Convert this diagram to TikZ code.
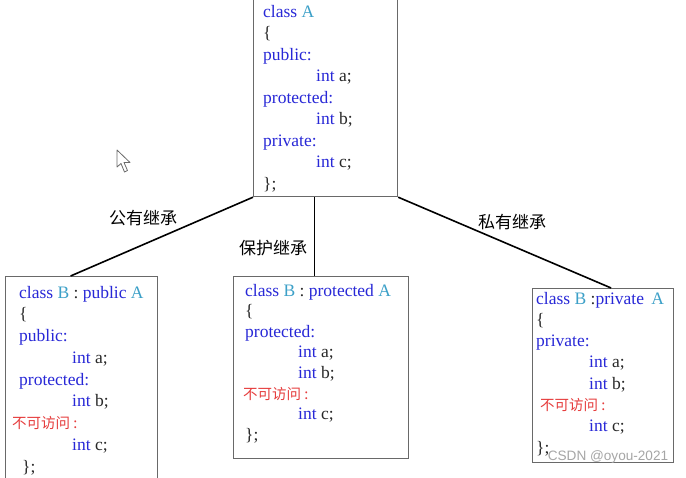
\documentclass[tikz,border=0pt]{standalone}
\usepackage{fontspec}
\setmainfont{Liberation Serif}
\setsansfont{Liberation Sans}
\newfontfamily\cjk{Noto Sans CJK SC}

\definecolor{kwblue}{RGB}{40,40,215}
\definecolor{nmteal}{RGB}{60,160,200}
\definecolor{hidered}{RGB}{230,60,60}
\definecolor{boxgray}{RGB}{105,105,105}
\definecolor{codeblack}{RGB}{40,40,40}

\newcommand{\kw}[1]{\textcolor{kwblue}{#1}}
\newcommand{\nm}[1]{\textcolor{nmteal}{#1}}
\newcommand{\hid}{{\color{hidered}\cjk\fontsize{14.5}{14.5}\selectfont 不可访问 :}}

\tikzset{
  cls/.style={draw=boxgray, line width=1.2pt, fill=white, rectangle, anchor=north west, inner sep=0},
  code/.style={anchor=base west, inner sep=0, text=codeblack, font=\fontsize{17.5}{21}\selectfont},
  link/.style={line width=1.6pt, black},
  lbl/.style={inner sep=1pt, font=\cjk\fontsize{17}{17}\selectfont, text=black}
}

\begin{document}
\begin{tikzpicture}[x=1pt, y=-1pt]
\useasboundingbox[fill=white] (0,0) rectangle (686,477);

% class boxes
\node [cls, minimum width=144pt, minimum height=197pt] (clsA) at (253,-1) {};
\node [cls, minimum width=152pt, minimum height=214pt] (pub) at (5,276) {};
\node [cls, minimum width=175pt, minimum height=182pt] (prot) at (233,276) {};
\node [cls, minimum width=141pt, minimum height=174pt] (priv) at (532,288) {};

%code lines of every box
\foreach \dx/\t [count=\i from 0] in {0/{\kw{class} \nm{A}}, 0/\{, 0/\kw{public:}, 53/{\kw{int} a;},
	0/\kw{protected:}, 53/{\kw{int} b;}, 0/\kw{private:}, 53/{\kw{int} c;}, 0/\};}
	\node [code] (A-\i) at (263+\dx, 17+\i*21.5) {\t};

\foreach \dx/\t [count=\i from 0] in {0/{\kw{class} \nm{B} : \kw{public} \nm{A}}, 0/\{, 0/\kw{public:}, 53/{\kw{int} a;},
	0/\kw{protected:}, 53/{\kw{int} b;}, -7/\hid, 53/{\kw{int} c;}, 3/\};}
	\node [code] (pub-\i) at (19+\dx, 298+\i*21.75) {\t};

\foreach \dx/\t [count=\i from 0] in {0/{\kw{class} \nm{B} : \kw{protected} \nm{A}}, 0/\{, 0/\kw{protected:}, 53/{\kw{int} a;},
	53/{\kw{int} b;}, -2/\hid, 53/{\kw{int} c;}, 0/\};}
	\node [code] (prot-\i) at (245+\dx, 296+\i*20.6) {\t};

\foreach \dx/\t [count=\i from 0] in {0/{\kw{class} \nm{B} :\kw{private}\, \nm{A}}, 0/\{, 0/\kw{private:}, 53/{\kw{int} a;},
	53/{\kw{int} b;}, 4/\hid, 53/{\kw{int} c;}, 0/\};}
	\node [code] (priv-\i) at (536+\dx, 304+\i*21.3) {\t};

%drawing part
\draw [link] (clsA.south west) -- ([xshift=-11pt]pub.north);
\draw [link] ([xshift=-11pt]clsA.south) -- ([xshift=-6.5pt]prot.north);
\draw [link] (clsA.south east) -- ([xshift=8pt]priv.north);

\node [lbl] (l-pub) at (143,218) {公有继承};
\node [lbl] (l-prot) at (273,248) {保护继承};
\node [lbl] (l-priv) at (512,222) {私有继承};

% mouse pointer and mark
\draw [boxgray, fill=white, line width=0.8pt, line join=round]
	(117,150) -- (117,167) -- (121,163.5) -- (124.5,172) -- (127.5,170.5) -- (124,162.5) -- (130,162.5) -- cycle;
\node [inner sep=0, text=gray!70, font=\sffamily\fontsize{13.6}{14}\selectfont] (mark) at (608,457) {CSDN @oyou-2021};

\end{tikzpicture}
\end{document}
